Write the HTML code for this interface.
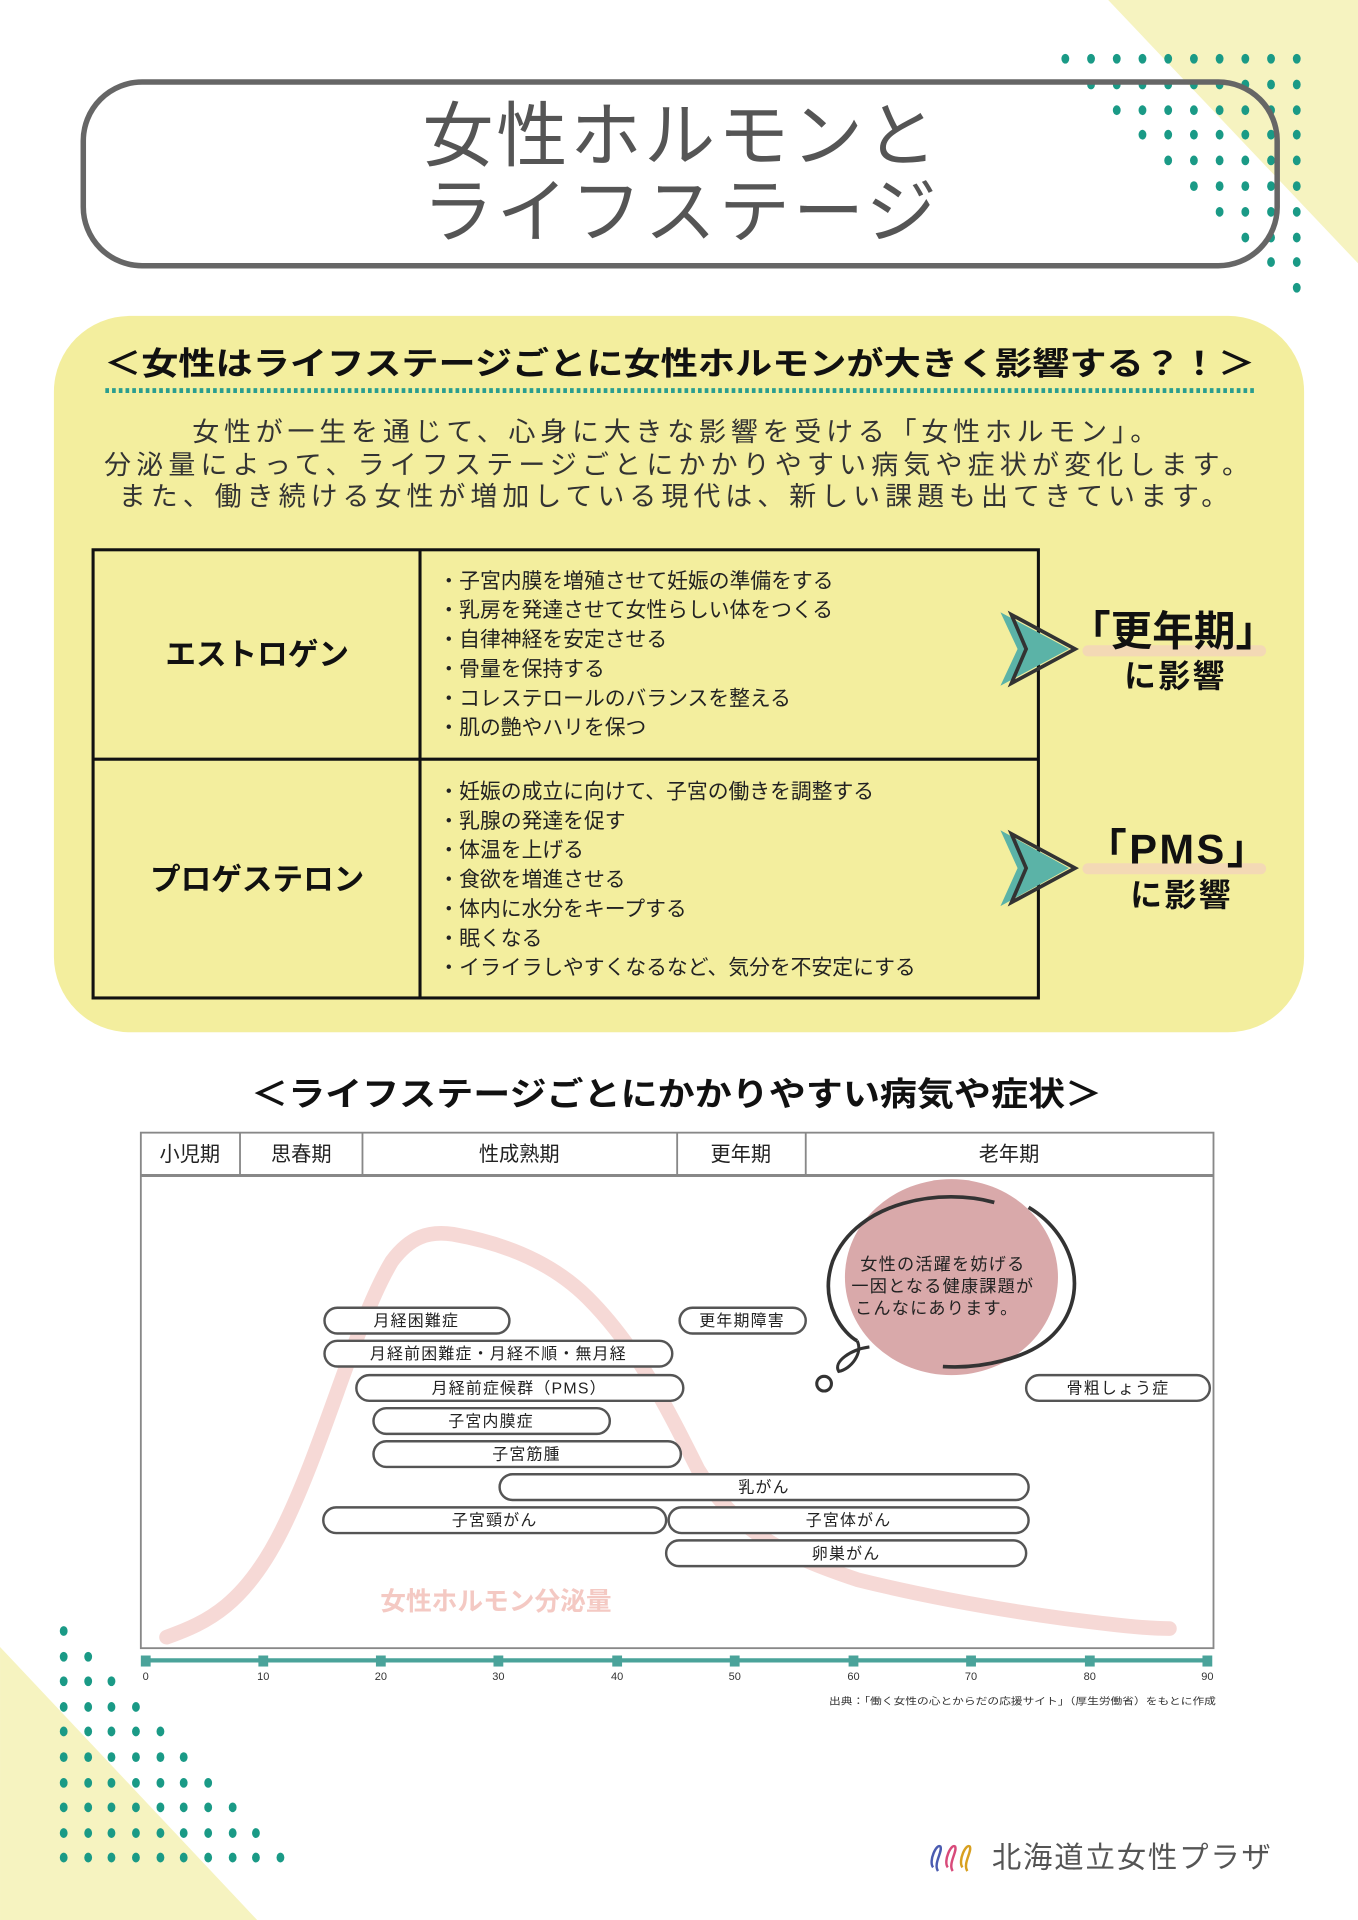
<!DOCTYPE html>
<html><head><meta charset="utf-8">
<style>
html,body{margin:0;padding:0;background:#fff;}
svg{display:block;}
text{font-family:"Liberation Sans","Noto Sans CJK JP",sans-serif;}
</style></head>
<body>
<svg width="1358" height="1920" viewBox="0 0 1109 1568" xmlns="http://www.w3.org/2000/svg">
<rect width="1109" height="1568" fill="#fff"/>
<polygon points="905,0 1109,0 1109,215" fill="#f6f3c0"/>
<polygon points="0,1345 0,1568 210,1568" fill="#f6f3c0"/>
<g fill="#1a9a86">
<g transform="translate(0,48)"><ellipse cx="870" cy="0" rx="3.2" ry="4"/><ellipse cx="891" cy="0" rx="3.2" ry="4"/><ellipse cx="912" cy="0" rx="3.2" ry="4"/><ellipse cx="933" cy="0" rx="3.2" ry="4"/><ellipse cx="954" cy="0" rx="3.2" ry="4"/><ellipse cx="975" cy="0" rx="3.2" ry="4"/><ellipse cx="996" cy="0" rx="3.2" ry="4"/><ellipse cx="1017" cy="0" rx="3.2" ry="4"/><ellipse cx="1038" cy="0" rx="3.2" ry="4"/><ellipse cx="1059" cy="0" rx="3.2" ry="4"/></g>
<g transform="translate(0,69)"><ellipse cx="891" cy="0" rx="3.2" ry="4"/><ellipse cx="912" cy="0" rx="3.2" ry="4"/><ellipse cx="933" cy="0" rx="3.2" ry="4"/><ellipse cx="954" cy="0" rx="3.2" ry="4"/><ellipse cx="975" cy="0" rx="3.2" ry="4"/><ellipse cx="996" cy="0" rx="3.2" ry="4"/><ellipse cx="1017" cy="0" rx="3.2" ry="4"/><ellipse cx="1038" cy="0" rx="3.2" ry="4"/><ellipse cx="1059" cy="0" rx="3.2" ry="4"/></g>
<g transform="translate(0,90)"><ellipse cx="912" cy="0" rx="3.2" ry="4"/><ellipse cx="933" cy="0" rx="3.2" ry="4"/><ellipse cx="954" cy="0" rx="3.2" ry="4"/><ellipse cx="975" cy="0" rx="3.2" ry="4"/><ellipse cx="996" cy="0" rx="3.2" ry="4"/><ellipse cx="1017" cy="0" rx="3.2" ry="4"/><ellipse cx="1038" cy="0" rx="3.2" ry="4"/><ellipse cx="1059" cy="0" rx="3.2" ry="4"/></g>
<g transform="translate(0,110)"><ellipse cx="933" cy="0" rx="3.2" ry="4"/><ellipse cx="954" cy="0" rx="3.2" ry="4"/><ellipse cx="975" cy="0" rx="3.2" ry="4"/><ellipse cx="996" cy="0" rx="3.2" ry="4"/><ellipse cx="1017" cy="0" rx="3.2" ry="4"/><ellipse cx="1038" cy="0" rx="3.2" ry="4"/><ellipse cx="1059" cy="0" rx="3.2" ry="4"/></g>
<g transform="translate(0,131)"><ellipse cx="954" cy="0" rx="3.2" ry="4"/><ellipse cx="975" cy="0" rx="3.2" ry="4"/><ellipse cx="996" cy="0" rx="3.2" ry="4"/><ellipse cx="1017" cy="0" rx="3.2" ry="4"/><ellipse cx="1038" cy="0" rx="3.2" ry="4"/><ellipse cx="1059" cy="0" rx="3.2" ry="4"/></g>
<g transform="translate(0,152)"><ellipse cx="975" cy="0" rx="3.2" ry="4"/><ellipse cx="996" cy="0" rx="3.2" ry="4"/><ellipse cx="1017" cy="0" rx="3.2" ry="4"/><ellipse cx="1038" cy="0" rx="3.2" ry="4"/><ellipse cx="1059" cy="0" rx="3.2" ry="4"/></g>
<g transform="translate(0,173)"><ellipse cx="996" cy="0" rx="3.2" ry="4"/><ellipse cx="1017" cy="0" rx="3.2" ry="4"/><ellipse cx="1038" cy="0" rx="3.2" ry="4"/><ellipse cx="1059" cy="0" rx="3.2" ry="4"/></g>
<g transform="translate(0,194)"><ellipse cx="1017" cy="0" rx="3.2" ry="4"/><ellipse cx="1038" cy="0" rx="3.2" ry="4"/><ellipse cx="1059" cy="0" rx="3.2" ry="4"/></g>
<g transform="translate(0,214)"><ellipse cx="1038" cy="0" rx="3.2" ry="4"/><ellipse cx="1059" cy="0" rx="3.2" ry="4"/></g>
<g transform="translate(0,235)"><ellipse cx="1059" cy="0" rx="3.2" ry="4"/></g>
</g>
<g fill="#1a9a86">
<g transform="translate(0,1332)"><ellipse cx="52" cy="0" rx="3.2" ry="4"/></g>
<g transform="translate(0,1353)"><ellipse cx="52" cy="0" rx="3.2" ry="4"/><ellipse cx="72" cy="0" rx="3.2" ry="4"/></g>
<g transform="translate(0,1373)"><ellipse cx="52" cy="0" rx="3.2" ry="4"/><ellipse cx="72" cy="0" rx="3.2" ry="4"/><ellipse cx="91" cy="0" rx="3.2" ry="4"/></g>
<g transform="translate(0,1394)"><ellipse cx="52" cy="0" rx="3.2" ry="4"/><ellipse cx="72" cy="0" rx="3.2" ry="4"/><ellipse cx="91" cy="0" rx="3.2" ry="4"/><ellipse cx="111" cy="0" rx="3.2" ry="4"/></g>
<g transform="translate(0,1414)"><ellipse cx="52" cy="0" rx="3.2" ry="4"/><ellipse cx="72" cy="0" rx="3.2" ry="4"/><ellipse cx="91" cy="0" rx="3.2" ry="4"/><ellipse cx="111" cy="0" rx="3.2" ry="4"/><ellipse cx="131" cy="0" rx="3.2" ry="4"/></g>
<g transform="translate(0,1435)"><ellipse cx="52" cy="0" rx="3.2" ry="4"/><ellipse cx="72" cy="0" rx="3.2" ry="4"/><ellipse cx="91" cy="0" rx="3.2" ry="4"/><ellipse cx="111" cy="0" rx="3.2" ry="4"/><ellipse cx="131" cy="0" rx="3.2" ry="4"/><ellipse cx="150" cy="0" rx="3.2" ry="4"/></g>
<g transform="translate(0,1456)"><ellipse cx="52" cy="0" rx="3.2" ry="4"/><ellipse cx="72" cy="0" rx="3.2" ry="4"/><ellipse cx="91" cy="0" rx="3.2" ry="4"/><ellipse cx="111" cy="0" rx="3.2" ry="4"/><ellipse cx="131" cy="0" rx="3.2" ry="4"/><ellipse cx="150" cy="0" rx="3.2" ry="4"/><ellipse cx="170" cy="0" rx="3.2" ry="4"/></g>
<g transform="translate(0,1476)"><ellipse cx="52" cy="0" rx="3.2" ry="4"/><ellipse cx="72" cy="0" rx="3.2" ry="4"/><ellipse cx="91" cy="0" rx="3.2" ry="4"/><ellipse cx="111" cy="0" rx="3.2" ry="4"/><ellipse cx="131" cy="0" rx="3.2" ry="4"/><ellipse cx="150" cy="0" rx="3.2" ry="4"/><ellipse cx="170" cy="0" rx="3.2" ry="4"/><ellipse cx="190" cy="0" rx="3.2" ry="4"/></g>
<g transform="translate(0,1497)"><ellipse cx="52" cy="0" rx="3.2" ry="4"/><ellipse cx="72" cy="0" rx="3.2" ry="4"/><ellipse cx="91" cy="0" rx="3.2" ry="4"/><ellipse cx="111" cy="0" rx="3.2" ry="4"/><ellipse cx="131" cy="0" rx="3.2" ry="4"/><ellipse cx="150" cy="0" rx="3.2" ry="4"/><ellipse cx="170" cy="0" rx="3.2" ry="4"/><ellipse cx="190" cy="0" rx="3.2" ry="4"/><ellipse cx="209" cy="0" rx="3.2" ry="4"/></g>
<g transform="translate(0,1517)"><ellipse cx="52" cy="0" rx="3.2" ry="4"/><ellipse cx="72" cy="0" rx="3.2" ry="4"/><ellipse cx="91" cy="0" rx="3.2" ry="4"/><ellipse cx="111" cy="0" rx="3.2" ry="4"/><ellipse cx="131" cy="0" rx="3.2" ry="4"/><ellipse cx="150" cy="0" rx="3.2" ry="4"/><ellipse cx="170" cy="0" rx="3.2" ry="4"/><ellipse cx="190" cy="0" rx="3.2" ry="4"/><ellipse cx="209" cy="0" rx="3.2" ry="4"/><ellipse cx="229" cy="0" rx="3.2" ry="4"/></g>
</g>
<rect x="68" y="67" width="975" height="150" rx="48" fill="none" stroke="#666" stroke-width="4.5"/>
<text x="345" y="131" font-size="58" fill="#555" textLength="420" lengthAdjust="spacing">女性ホルモンと</text>
<text x="345" y="193" font-size="58" fill="#555" textLength="420" lengthAdjust="spacing">ライフステージ</text>
<rect x="44" y="258" width="1021" height="585" rx="62" fill="#f3ee9e"/>
<text x="85" y="306" font-size="26" font-weight="bold" fill="#111" textLength="940" lengthAdjust="spacingAndGlyphs">＜女性はライフステージごとに女性ホルモンが大きく影響する？！＞</text>
<line x1="86" y1="319" x2="1025" y2="319" stroke="#2a9d8f" stroke-width="4" stroke-dasharray="3,2.5"/>
<g font-size="22" fill="#333">
<text x="157" y="360" textLength="788" lengthAdjust="spacing">女性が一生を通じて、心身に大きな影響を受ける「女性ホルモン」。</text>
<text x="85" y="387" textLength="935" lengthAdjust="spacing">分泌量によって、ライフステージごとにかかりやすい病気や症状が変化します。</text>
<text x="97" y="413" textLength="906" lengthAdjust="spacing">また、働き続ける女性が増加している現代は、新しい課題も出てきています。</text>
</g>
<g stroke="#111" stroke-width="2.5" fill="none">
<rect x="76" y="449" width="772" height="366"/>
<line x1="343" y1="449" x2="343" y2="815"/>
<line x1="76" y1="620" x2="848" y2="620"/>
</g>
<text x="210" y="543" text-anchor="middle" font-size="25" font-weight="bold" fill="#111">エストロゲン</text>
<text x="210" y="727" text-anchor="middle" font-size="25" font-weight="bold" fill="#111">プロゲステロン</text>
<g font-size="17" fill="#222">
<text x="358" y="480">・子宮内膜を増殖させて妊娠の準備をする</text>
<text x="358" y="504">・乳房を発達させて女性らしい体をつくる</text>
<text x="358" y="528">・自律神経を安定させる</text>
<text x="358" y="552">・骨量を保持する</text>
<text x="358" y="576">・コレステロールのバランスを整える</text>
<text x="358" y="600">・肌の艶やハリを保つ</text>
<text x="358" y="652">・妊娠の成立に向けて、子宮の働きを調整する</text>
<text x="358" y="676">・乳腺の発達を促す</text>
<text x="358" y="700">・体温を上げる</text>
<text x="358" y="724">・食欲を増進させる</text>
<text x="358" y="748">・体内に水分をキープする</text>
<text x="358" y="772">・眠くなる</text>
<text x="358" y="796">・イライラしやすくなるなど、気分を不安定にする</text>
</g>
<g>
<polygon points="817,500 873,530 817,560 831,530" fill="#5bb3a7"/>
<polygon points="826,502 878,530 826,558 838,530" fill="none" stroke="#333" stroke-width="3"/>
<polygon points="817,678 873,709 817,740 831,709" fill="#5bb3a7"/>
<polygon points="826,681 878,709 826,737 838,709" fill="none" stroke="#333" stroke-width="3"/>
</g>
<rect x="884" y="527" width="150" height="9" rx="4.5" fill="#f3d9b5"/>
<rect x="884" y="705" width="150" height="9" rx="4.5" fill="#f3d9b5"/>
<text x="958" y="527" text-anchor="middle" font-size="34" font-weight="bold" fill="#111">「更年期」</text>
<text x="960" y="561" text-anchor="middle" font-size="26" font-weight="bold" fill="#111" letter-spacing="2">に影響</text>
<text x="962" y="705" text-anchor="middle" font-size="34" font-weight="bold" fill="#111" letter-spacing="2">「PMS」</text>
<text x="965" y="740" text-anchor="middle" font-size="26" font-weight="bold" fill="#111" letter-spacing="2">に影響</text>
<text x="205" y="903" font-size="27" font-weight="bold" fill="#111" textLength="695" lengthAdjust="spacingAndGlyphs">＜ライフステージごとにかかりやすい病気や症状＞</text>
<g stroke="#888" stroke-width="1.5" fill="none">
<rect x="115" y="925" width="876" height="421"/>
<line x1="115" y1="960" x2="991" y2="960" stroke-width="2.5"/>
<line x1="196" y1="925" x2="196" y2="960"/>
<line x1="296" y1="925" x2="296" y2="960"/>
<line x1="553" y1="925" x2="553" y2="960"/>
<line x1="658" y1="925" x2="658" y2="960"/>
</g>
<g font-size="16.5" fill="#222" text-anchor="middle">
<text x="155" y="948">小児期</text>
<text x="246" y="948">思春期</text>
<text x="424" y="948">性成熟期</text>
<text x="605" y="948">更年期</text>
<text x="824" y="948">老年期</text>
</g>
<path d="M136,1337 C170,1325 200,1310 230,1250 C265,1180 290,1080 320,1030 C335,1010 350,1005 370,1008 C410,1015 450,1030 480,1060 C520,1100 545,1150 570,1200 C600,1250 640,1270 700,1290 C760,1305 820,1315 870,1322 C910,1327 935,1330 955,1330" fill="none" stroke="#f6d9d6" stroke-width="12" stroke-linecap="round"/>
<text x="405" y="1315" text-anchor="middle" font-size="21" font-weight="bold" fill="#f4c9c3">女性ホルモン分泌量</text>
<ellipse cx="777" cy="1043" rx="87" ry="80" fill="#d9a9aa"/>
<path d="M812,982 C770,970 700,980 680,1030 C668,1065 690,1090 700,1095" fill="none" stroke="#333" stroke-width="3"/>
<path d="M840,986 C880,1010 890,1060 860,1090 C840,1110 800,1118 770,1116" fill="none" stroke="#333" stroke-width="3"/>
<path d="M700,1095 C705,1105 695,1118 685,1120 C680,1112 695,1102 710,1100" fill="none" stroke="#333" stroke-width="2.5"/>
<circle cx="673" cy="1130" r="6" fill="none" stroke="#333" stroke-width="2.5"/>
<g font-size="14" fill="#222" text-anchor="middle" letter-spacing="1">
<text x="770" y="1037">女性の活躍を妨げる</text>
<text x="770" y="1055">一因となる健康課題が</text>
<text x="765" y="1073">こんなにあります。</text>
</g>
<g fill="#fff" stroke="#555" stroke-width="2">
<rect x="265" y="1068" width="151" height="21" rx="10.5"/>
<rect x="555" y="1068" width="103" height="21" rx="10.5"/>
<rect x="265" y="1095" width="284" height="21" rx="10.5"/>
<rect x="291" y="1123" width="267" height="21" rx="10.5"/>
<rect x="838" y="1123" width="150" height="21" rx="10.5"/>
<rect x="305" y="1150" width="193" height="21" rx="10.5"/>
<rect x="305" y="1177" width="251" height="21" rx="10.5"/>
<rect x="408" y="1204" width="432" height="21" rx="10.5"/>
<rect x="264" y="1231" width="280" height="21" rx="10.5"/>
<rect x="546" y="1231" width="294" height="21" rx="10.5"/>
<rect x="544" y="1258" width="294" height="21" rx="10.5"/>
</g>
<g font-size="13" fill="#222" text-anchor="middle" letter-spacing="1">
<text x="340" y="1083">月経困難症</text>
<text x="606" y="1083">更年期障害</text>
<text x="407" y="1110">月経前困難症・月経不順・無月経</text>
<text x="424" y="1138">月経前症候群（PMS）</text>
<text x="913" y="1138">骨粗しょう症</text>
<text x="401" y="1165">子宮内膜症</text>
<text x="430" y="1192">子宮筋腫</text>
<text x="624" y="1219">乳がん</text>
<text x="404" y="1246">子宮頸がん</text>
<text x="693" y="1246">子宮体がん</text>
<text x="691" y="1273">卵巣がん</text>
</g>
<line x1="119" y1="1356" x2="987" y2="1356" stroke="#4aa39a" stroke-width="3.5"/>
<g fill="#4aa39a">
<rect x="115" y="1352" width="8" height="9"/><rect x="211" y="1352" width="8" height="9"/><rect x="307" y="1352" width="8" height="9"/><rect x="403" y="1352" width="8" height="9"/><rect x="500" y="1352" width="8" height="9"/><rect x="596" y="1352" width="8" height="9"/><rect x="693" y="1352" width="8" height="9"/><rect x="789" y="1352" width="8" height="9"/><rect x="886" y="1352" width="8" height="9"/><rect x="982" y="1352" width="8" height="9"/>
</g>
<g font-size="9" fill="#333" text-anchor="middle">
<text x="119" y="1372">0</text><text x="215" y="1372">10</text><text x="311" y="1372">20</text><text x="407" y="1372">30</text><text x="504" y="1372">40</text><text x="600" y="1372">50</text><text x="697" y="1372">60</text><text x="793" y="1372">70</text><text x="890" y="1372">80</text><text x="986" y="1372">90</text>
</g>
<text x="677" y="1392" font-size="8" fill="#333" textLength="316" lengthAdjust="spacingAndGlyphs">出典：「働く女性の心とからだの応援サイト」（厚生労働省）をもとに作成</text>
<g fill="none" stroke-width="2">
<path d="M762,1525 C758,1520 765,1505 768,1508 C770,1512 762,1522 766,1528" stroke="#4a5bb0"/>
<path d="M774,1525 C770,1520 777,1505 780,1508 C782,1512 774,1522 778,1528" stroke="#d84a7a"/>
<path d="M786,1525 C782,1520 789,1505 792,1508 C794,1512 786,1522 790,1528" stroke="#d8a020"/>
</g>
<text x="810" y="1525" font-size="24" fill="#555" letter-spacing="1.5">北海道立女性プラザ</text>
</svg>
</body></html>
